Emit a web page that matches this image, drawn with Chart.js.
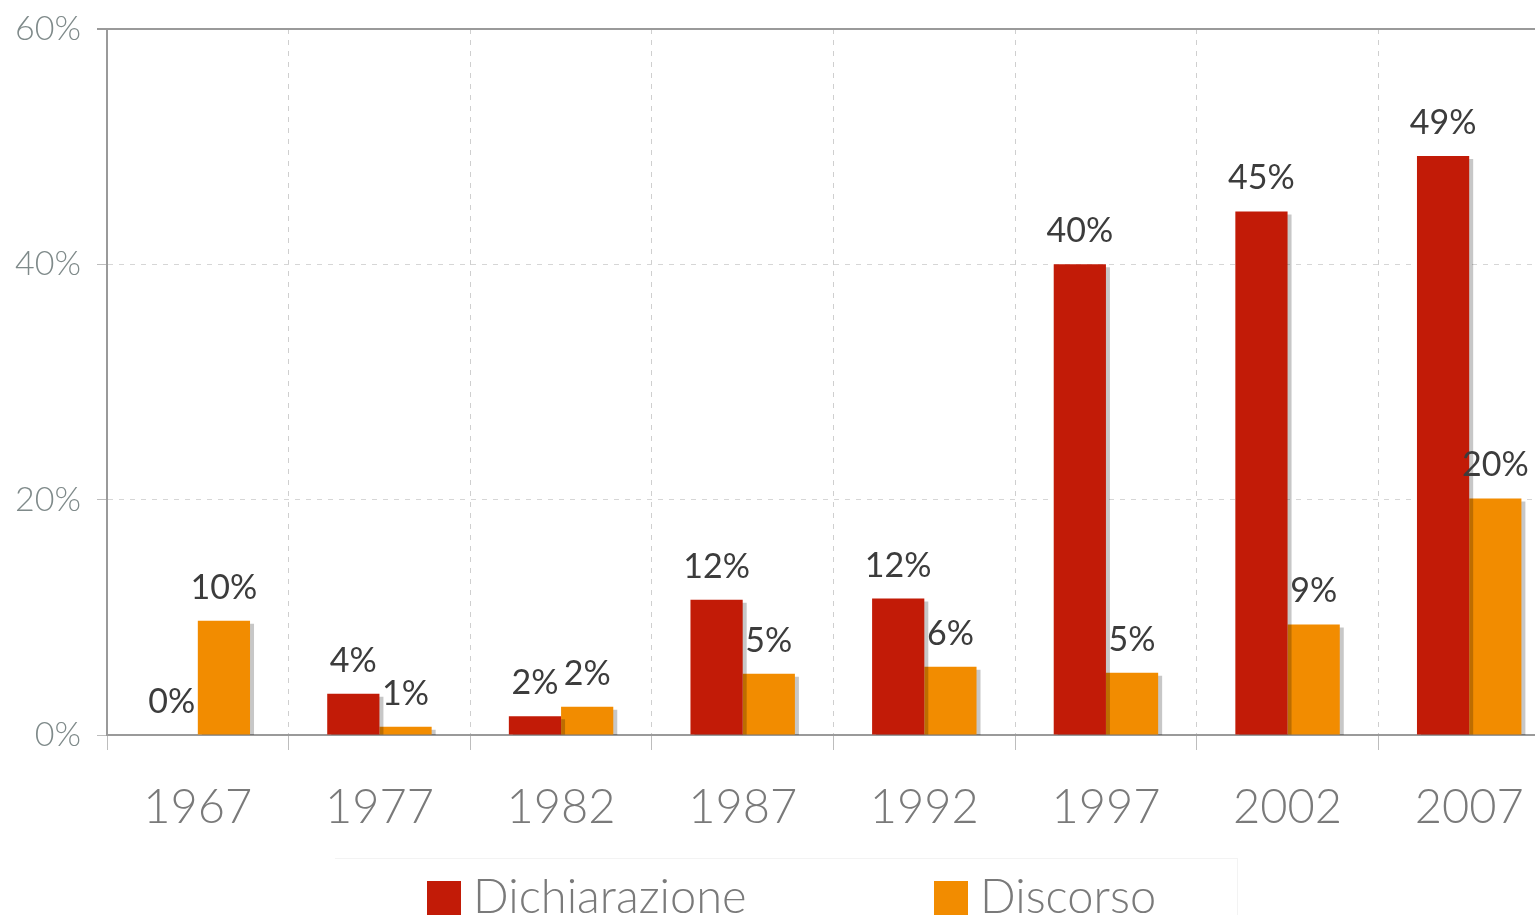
<!DOCTYPE html>
<html>
<head>
<meta charset="utf-8">
<script src="https://cdn.jsdelivr.net/npm/chart.js@4.4.1/dist/chart.umd.min.js"></script>
<style>
  html, body { margin: 0; padding: 0; background: #fff; overflow: hidden; }
  #wrap { position: relative; width: 1580px; height: 915px; }
  #chartBox { position: absolute; left: 0; top: 0; width: 1580px; height: 860px; }
  #legend { position: absolute; left: 335px; top: 858px; width: 902px; height: 57px;
            border-top: 1px solid #f3f3f3; border-right: 1px solid #f3f3f3; }
  .item { position: absolute; top: 0; height: 57px; font-family: Lato, sans-serif; font-weight: 300;
          font-size: 47px; color: #7a7a7a; line-height: 72px; white-space: nowrap; }
  .box { display: inline-block; width: 34px; height: 34px; margin-right: 12px; vertical-align: -2px; }
</style>
</head>
<body>
<div id="wrap">
  <div id="chartBox"><canvas id="c"></canvas></div>
  <div id="legend"></div>
</div>
<script>
// ===============================
// DATA
// ===============================
const years = ["1967", "1977", "1982", "1987", "1992", "1997", "2002", "2007"];
const dichiarazione = [0, 3.5, 1.6, 11.5, 11.6, 40.0, 44.5, 49.2];
const discorso = [9.7, 0.7, 2.4, 5.2, 5.8, 5.3, 9.4, 20.1];
const yTicks = [0, 20, 40, 60];

const seriesNames = ["Dichiarazione", "Discorso"];
const seriesColors = ["#c21b07", "#f28c00"];

// bar shadow (gray offset to the right)
const shadowPlugin = {
    id: "barShadow",
    beforeDatasetsDraw(chart) {
        const ctx = chart.ctx;
        ctx.save();
        ctx.shadowColor = "rgba(0,0,0,0.22)";
        ctx.shadowOffsetX = 4;
        ctx.shadowOffsetY = 3;
        ctx.shadowBlur = 0;
    },
    afterDatasetsDraw(chart) {
        chart.ctx.restore();
    }
};

// value labels above bars + solid top line
const labelPlugin = {
    id: "valueLabels",
    afterDatasetsDraw(chart) {
        const ctx = chart.ctx;
        const area = chart.chartArea;
        const yScale = chart.scales.y;

        ctx.save();
        ctx.strokeStyle = "#9a9a9a";
        ctx.lineWidth = 2;
        ctx.beginPath();
        const top = yScale.getPixelForValue(60);
        ctx.moveTo(area.left - 10, top);
        ctx.lineTo(area.right, top);
        ctx.stroke();

        ctx.font = "34px Lato, sans-serif";
        ctx.fillStyle = "#3c3c3c";
        ctx.textAlign = "center";
        ctx.textBaseline = "alphabetic";
        chart.data.datasets.forEach((ds, i) => {
            chart.getDatasetMeta(i).data.forEach((bar, j) => {
                ctx.fillText(Math.round(ds.data[j]) + "%", bar.x, bar.y - 22);
            });
        });
        ctx.restore();
    }
};

const ctx = document.getElementById("c").getContext("2d");

new Chart(ctx, {
    type: "bar",
    data: {
        labels: years,
        datasets: [
            { label: seriesNames[0], data: dichiarazione, backgroundColor: seriesColors[0] },
            { label: seriesNames[1], data: discorso, backgroundColor: seriesColors[1] }
        ]
    },
    options: {
        responsive: true,
        maintainAspectRatio: false,
        animation: false,
        categoryPercentage: 0.575,
        barPercentage: 1.0,
        layout: { padding: { top: 29, right: 20, left: 0, bottom: 0 } },
        plugins: {
            legend: { display: false },
            tooltip: { enabled: false }
        },
        scales: {
            x: {
                afterFit(s) { s.height = 125; s.paddingLeft = 0; s.paddingRight = 0; },
                grid: {
                    color: "#cfcfcf",
                    tickLength: 15,
                    tickColor: "#bdbdbd",
                    tickBorderDash: []
                },
                border: { display: true, color: "#9a9a9a", width: 2, dash: [5, 6] },
                ticks: {
                    color: "#7a7a7a",
                    font: { family: "Lato", size: 47, weight: 300 },
                    padding: 30
                }
            },
            y: {
                min: 0,
                max: 60,
                afterFit(s) { s.width = 107; s.paddingTop = 0; s.paddingBottom = 0; },
                afterBuildTicks(s) { s.ticks = yTicks.map(v => ({ value: v })); },
                grid: {
                    color: "#d6d6d6",
                    tickLength: 10,
                    tickColor: "#bdbdbd",
                    tickBorderDash: []
                },
                border: { display: true, color: "#9a9a9a", width: 2, dash: [5, 6] },
                ticks: {
                    color: "#7f8a8a",
                    font: { family: "Lato", size: 34, weight: 300 },
                    padding: 16,
                    callback: v => v + "%"
                }
            }
        }
    },
    plugins: [shadowPlugin, labelPlugin]
});

// HTML legend
const legend = document.getElementById("legend");
const legendX = [92, 599];
seriesNames.forEach((name, i) => {
    const item = document.createElement("div");
    item.className = "item";
    item.style.left = legendX[i] + "px";
    item.innerHTML = `<span class="box" style="background:${seriesColors[i]}"></span>${name}`;
    legend.appendChild(item);
});
</script>
</body>
</html>
